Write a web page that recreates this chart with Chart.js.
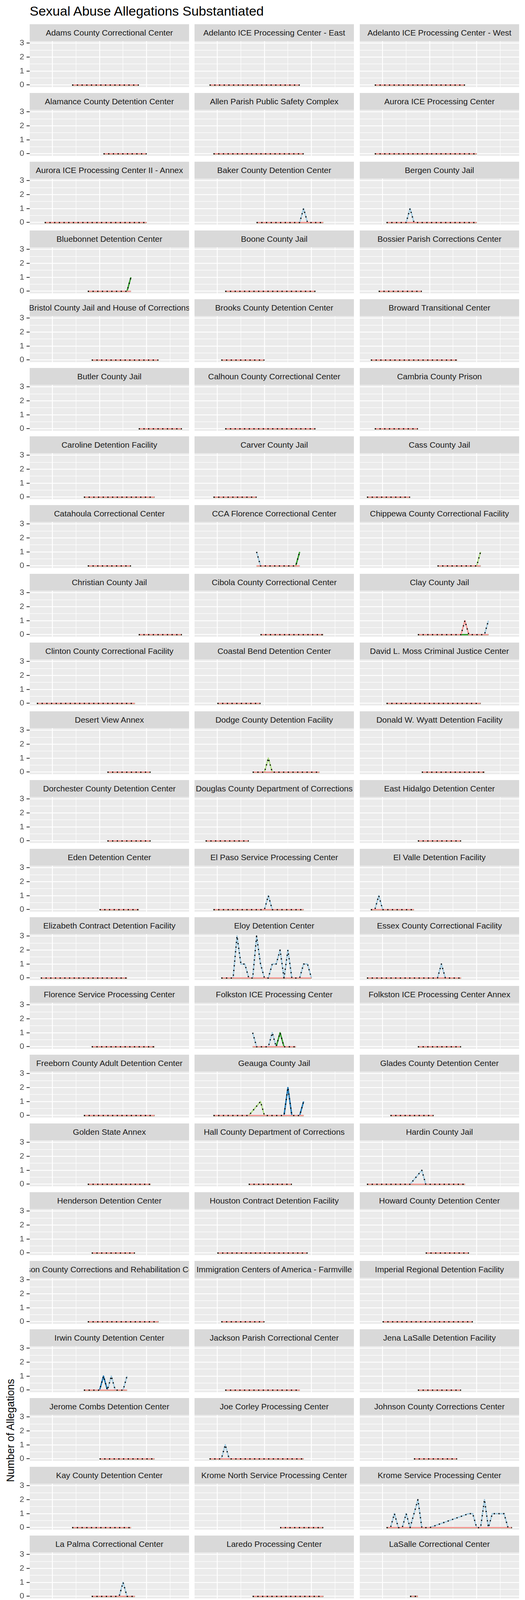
<!DOCTYPE html>
<html>
<head>
<meta charset="utf-8">
<title>Sexual Abuse Allegations Substantiated</title>
<script src="https://cdn.jsdelivr.net/npm/chart.js@4.4.0/dist/chart.umd.min.js"></script>
<style>
  body { margin: 0; background: #fff; font-family: "Liberation Sans", Arial, sans-serif; }
  #page { position: relative; width: 1344px; height: 7680px; overflow: hidden; background: #fff; }
  .strip { position: absolute; background: #d9d9d9; color: #1a1a1a; font-size: 21px; overflow: hidden;
           display: flex; align-items: center; justify-content: center; white-space: nowrap; }
  .strip span { flex-shrink: 0; }
  .panel { position: absolute; }
  #title { position: absolute; left: 76px; top: 11px; font-size: 34px; line-height: 34px; color: #000; white-space: nowrap; }
  #xTitle { position: absolute; left: 76px; width: 1253px; top: 7301px; font-size: 27px; line-height: 27px; text-align: center; color: #000; }
  #yTitle { position: absolute; left: 27px; top: 3662px; font-size: 27px; line-height: 27px; color: #000; white-space: nowrap;
            transform: translate(-50%, -50%) rotate(-90deg); }
  #legendTitle { position: absolute; left: 79px; top: 7498px; font-size: 27px; line-height: 27px; color: #000; white-space: nowrap; }
  #legendKeys { position: absolute; left: 490px; top: 7374px; width: 46px; height: 276px; background: #f2f2f2; }
  .key { position: absolute; left: 4px; width: 36px; height: 4px; }
  .keyLabel { position: absolute; left: 550px; font-size: 21px; line-height: 21px; color: #000; white-space: nowrap; }
</style>
</head>
<body>
<div id="page">
  <div id="title">Sexual Abuse Allegations Substantiated</div>
  <div id="xTitle">Date</div>
  <div id="yTitle">Number of Allegations</div>
  <div id="legendTitle">Sexual Abuse Allegation Type:</div>
  <div id="legendKeys"></div>
</div>
<script>
// months are counted from Sep 2018 (0) to Oct 2021 (37)
const yearTicks = [4, 16, 28];
const yearLabels = ['2019', '2020', '2021'];
const halfYearTicks = [10, 22, 34];
const countTicks = [0, 0.5, 1, 1.5, 2, 2.5, 3];

const seriesNames = [
  'Sexual Abuse Allegations - Detainee on Detainee',
  'Sexual Abuse Allegations - Inmate on Detainee',
  'Sexual Abuse Allegations - Detainee on Inmate',
  'Sexual Abuse Allegations - Staff/Contractor/Volunteer on Detainee',
  'Number of Sexual Abuse Allegations - Detainee on Staff/Contractor/Volunteer',
  'Total Sexual Abuse Allegations'
];
const seriesColors = ['#a6cee3', '#1f78b4', '#b2df8a', '#33a02c', '#fb9a99', '#000000'];

const facilities = [
  'Adams County Correctional Center', 'Adelanto ICE Processing Center - East', 'Adelanto ICE Processing Center - West',
  'Alamance County Detention Center', 'Allen Parish Public Safety Complex', 'Aurora ICE Processing Center',
  'Aurora ICE Processing Center II - Annex', 'Baker County Detention Center', 'Bergen County Jail',
  'Bluebonnet Detention Center', 'Boone County Jail', 'Bossier Parish Corrections Center',
  'Bristol County Jail and House of Corrections', 'Brooks County Detention Center', 'Broward Transitional Center',
  'Butler County Jail', 'Calhoun County Correctional Center', 'Cambria County Prison',
  'Caroline Detention Facility', 'Carver County Jail', 'Cass County Jail',
  'Catahoula Correctional Center', 'CCA Florence Correctional Center', 'Chippewa County Correctional Facility',
  'Christian County Jail', 'Cibola County Correctional Center', 'Clay County Jail',
  'Clinton County Correctional Facility', 'Coastal Bend Detention Center', 'David L. Moss Criminal Justice Center',
  'Desert View Annex', 'Dodge County Detention Facility', 'Donald W. Wyatt Detention Facility',
  'Dorchester County Detention Center', 'Douglas County Department of Corrections', 'East Hidalgo Detention Center',
  'Eden Detention Center', 'El Paso Service Processing Center', 'El Valle Detention Facility',
  'Elizabeth Contract Detention Facility', 'Eloy Detention Center', 'Essex County Correctional Facility',
  'Florence Service Processing Center', 'Folkston ICE Processing Center', 'Folkston ICE Processing Center Annex',
  'Freeborn County Adult Detention Center', 'Geauga County Jail', 'Glades County Detention Center',
  'Golden State Annex', 'Hall County Department of Corrections', 'Hardin County Jail',
  'Henderson Detention Center', 'Houston Contract Detention Facility', 'Howard County Detention Center',
  'Hudson County Corrections and Rehabilitation Center', 'Immigration Centers of America - Farmville', 'Imperial Regional Detention Facility',
  'Irwin County Detention Center', 'Jackson Parish Correctional Center', 'Jena LaSalle Detention Facility',
  'Jerome Combs Detention Center', 'Joe Corley Processing Center', 'Johnson County Corrections Center',
  'Kay County Detention Center', 'Krome North Service Processing Center', 'Krome Service Processing Center',
  'La Palma Correctional Center', 'Laredo Processing Center', 'LaSalle Correctional Center',
  'LaSalle County Regional Detention Center', 'LaSalle ICE Processing Center', 'Limestone County Detention Center',
  'McHenry County Adult Correctional Facility', 'Mesa Verde ICE Processing Facility', 'Monroe County Inmate Dormitory',
  'Montgomery County Jail', 'Montgomery Processing Center', 'Morgan County Adult Detention Center',
  'Morrow County Correctional Facility', 'Northern Oregon Correctional Facility', 'Northwest ICE Processing Center',
  'Nye County Detention Center', 'Okmulgee County Jail - Moore Detention Facility', 'Orange County Correctional Facility',
  'Otay Mesa Detention Center', 'Otero County Processing Center', 'Pike County Correctional Facility',
  'Pine Prairie ICE Processing Center', 'Platte County Detention Center', 'Plymouth County Correctional Facility',
  'Polk County Adult Detention Center', 'Port Isabel Service Processing Center', 'Prairieland Detention Center',
  'Pulaski County Detention Center', 'Richwood Correctional Center', 'Rio Grande Detention Center',
  'River Correctional Center', 'Robert A. Deyton Detention Facility', 'Rolling Plains Detention Center',
  'Saint Clair County Jail', 'San Luis Regional Detention Center', 'Seneca County Jail',
  'Shawnee County Department of Corrections - Adult Detention Center', 'Sherburne County Jail', 'Sheriff Al Cannon Detention Center',
  'South Louisiana ICE Processing Center', 'South Texas ICE Processing Center', 'Stewart Detention Center',
  'Strafford County Department of Corrections', 'T. Don Hutto Residential Center', 'Teller County Jail',
  'Torrance County Detention Facility', 'Val Verde Correctional Facility', 'Wakulla County Detention Facility',
  'Washoe County Detention Center', 'Webb County Detention Center', 'West Texas Detention Facility',
  'Western Tennessee Detention Facility', 'Willacy County Regional Detention Facility', 'Winn Correctional Center',
  'York County Prison', 'Yuba County Jail'
];

// first and last reported month per facility (same order as facilities)
const firstMonth = [
  9, 2, 2,   17, 3, 2,   2, 14, 5,   13, 6, 3,   14, 5, 1,
  26, 6, 2,  12, 3, 0,   13, 14, 18, 26, 15, 13, 0, 4, 5,
  18, 13, 14, 18, 1, 13, 16, 3, 1,   1, 5, 0,   14, 13, 13,
  12, 3, 6,  13, 12, 0,  14, 4, 15,  13, 5, 4,  12, 6, 13,
  16, 2, 12, 9, 20, 5,   14, 13, 11, 13, 0, 1,  13, 13, 15,
  2, 3, 14,  17, 1, 15,  14, 13, 13, 4, 4, 13,  14, 3, 15,
  4, 4, 5,   6, 7, 6,    1, 3, 13,  13, 14, 1,  0, 2, 3,
  9, 5, 12,  3, 18, 13,  13, 0, 1,  13, 5, 12,  4, 0, 8,
  1, 2
];
const lastMonth = [
  26, 25, 25, 28, 26, 28, 28, 31, 28, 24, 29, 14, 31, 16, 23,
  37, 29, 13, 30, 14, 11, 24, 25, 29, 37, 31, 31, 25, 15, 29,
  29, 30, 30, 29, 12, 24, 26, 26, 12, 23, 28, 24, 30, 24, 24,
  30, 26, 17, 29, 23, 25, 25, 27, 26, 31, 16, 27, 23, 25, 24,
  30, 26, 23, 24, 31, 37, 25, 31, 13, 24, 11, 24, 24, 24, 26,
  13, 26, 25, 28, 12, 31, 31, 24, 30, 28, 27, 30, 30, 14, 26,
  27, 27, 28, 29, 12, 29, 29, 26, 24, 24, 30, 27, 11, 27, 14,
  25, 16, 31, 26, 29, 29, 24, 11, 24, 24, 28, 23, 15, 24, 24,
  26, 26
];
// months with no report inside a facility's range
const missingMonths = {
  'Geauga County Jail': [13, 14],
  'Hardin County Jail': [12, 13],
  'Krome Service Processing Center': [17, 18, 19, 20, 21, 22, 23, 24, 25],
  'Otay Mesa Detention Center': [12]
};

// non-zero monthly counts: facility -> [month, count]
const detaineeOnDetainee = {
  'Baker County Detention Center': [[26, 1]],
  'Bergen County Jail': [[11, 1]],
  'CCA Florence Correctional Center': [[14, 1]],
  'Clay County Jail': [[31, 1]],
  'El Paso Service Processing Center': [[17, 1]],
  'El Valle Detention Facility': [[3, 1]],
  'Eloy Detention Center': [[9, 3], [10, 1], [11, 1], [14, 3], [15, 1], [18, 1], [19, 1], [20, 2], [22, 2], [26, 1], [27, 1]],
  'Essex County Correctional Facility': [[19, 1]],
  'Folkston ICE Processing Center': [[13, 1], [18, 1]],
  'Hardin County Jail': [[14, 1]],
  'Irwin County Detention Center': [[19, 1], [23, 1]],
  'Joe Corley Processing Center': [[6, 1]],
  'Krome Service Processing Center': [[7, 1], [10, 1], [12, 1], [13, 2], [26, 1], [27, 1], [30, 2], [32, 1], [33, 1], [34, 1], [35, 1]],
  'La Palma Correctional Center': [[22, 1]],
  'LaSalle ICE Processing Center': [[7, 1]],
  'Mesa Verde ICE Processing Facility': [[20, 1]],
  'Northern Oregon Correctional Facility': [[2, 1]],
  'Okmulgee County Jail - Moore Detention Facility': [[18, 1]],
  'Otay Mesa Detention Center': [[4, 2], [5, 2], [9, 3], [10, 3], [13, 3], [18, 1], [19, 1], [20, 1], [21, 1], [28, 1]],
  'Otero County Processing Center': [[9, 1], [26, 1]],
  'Stewart Detention Center': [[12, 1]],
  'Torrance County Detention Facility': [[21, 1]],
  'Webb County Detention Center': [[5, 3]],
  'York County Prison': [[4, 1], [6, 1], [7, 1], [12, 2], [13, 1], [16, 1], [21, 1], [26, 1]]
};
const inmateOnDetainee = {
  'Geauga County Jail': [[22, 2], [26, 1]],
  'Irwin County Detention Center': [[17, 1]],
  'Morgan County Adult Detention Center': [[18, 1], [19, 1]],
  'Winn Correctional Center': [[13, 1]],
  'York County Prison': [[5, 1]],
  'Yuba County Jail': [[8, 1], [18, 1]]
};
const detaineeOnInmate = {
  'Chippewa County Correctional Facility': [[29, 1]],
  'Dodge County Detention Facility': [[17, 1]],
  'Geauga County Jail': [[15, 1]]
};
const staffOnDetainee = {
  'Bluebonnet Detention Center': [[24, 1]],
  'CCA Florence Correctional Center': [[25, 1]],
  'Folkston ICE Processing Center': [[20, 1]],
  'Monroe County Inmate Dormitory': [[21, 1]],
  'Otay Mesa Detention Center': [[8, 1]],
  'Stewart Detention Center': [[20, 1]]
};
const detaineeOnStaff = {
  'Clay County Jail': [[25, 1]]
};

const seriesTables = [detaineeOnDetainee, inmateOnDetainee, detaineeOnInmate, staffOnDetainee, detaineeOnStaff];

// layout
const COL_LEFT = [76, 498, 921];
const PANEL_W = 408, STRIP_H = 43, PANEL_H = 118;
const ROW_TOP0 = 62.3, ROW_PITCH = 175.85;

Chart.defaults.font.family = '"Liberation Sans", Arial, sans-serif';
Chart.defaults.font.size = 21;

const panelBackground = {
  id: 'panelBackground',
  beforeDraw(chart) {
    const a = chart.chartArea, ctx = chart.ctx;
    ctx.save();
    ctx.fillStyle = '#ebebeb';
    ctx.fillRect(a.left, a.top, a.right - a.left, a.bottom - a.top);
    ctx.restore();
  }
};

function countAt(table, name, m) {
  const pts = table[name];
  if (!pts) return 0;
  const hit = pts.find(p => p[0] === m);
  return hit ? hit[1] : 0;
}

function buildDatasets(name, i) {
  const skip = missingMonths[name] || [];
  const months = [];
  for (let m = firstMonth[i]; m <= lastMonth[i]; m++) {
    if (!skip.includes(m)) months.push(m);
  }
  const parts = seriesTables.map(t => months.map(m => countAt(t, name, m)));
  const total = months.map((m, k) => parts.reduce((s, p) => s + p[k], 0));
  const sets = parts.map((vals, s) => ({
    label: seriesNames[s],
    data: months.map((m, k) => ({ x: m, y: vals[k] })),
    borderColor: seriesColors[s],
    borderWidth: 3.5,
    order: 5 - s
  }));
  sets.push({
    label: seriesNames[5],
    data: months.map((m, k) => ({ x: m, y: total[k] })),
    borderColor: seriesColors[5],
    borderWidth: 3,
    borderDash: [3, 9],
    order: 0
  });
  return sets;
}

const page = document.getElementById('page');

facilities.forEach((name, i) => {
  const col = i % 3, row = Math.floor(i / 3);
  const top = Math.round(ROW_TOP0 + row * ROW_PITCH);
  const isLeft = col === 0;
  const isBottom = i + 3 >= facilities.length;

  const strip = document.createElement('div');
  strip.className = 'strip';
  strip.style.left = COL_LEFT[col] + 'px';
  strip.style.top = top + 'px';
  strip.style.width = PANEL_W + 'px';
  strip.style.height = STRIP_H + 'px';
  const span = document.createElement('span');
  span.textContent = name;
  strip.appendChild(span);
  page.appendChild(strip);

  const yAxisW = isLeft ? 76 : 0;
  const xAxisH = isBottom ? 44 : 0;
  const padT = 12, padB = isBottom ? 0 : 12;
  const canvas = document.createElement('canvas');
  canvas.className = 'panel';
  canvas.width = PANEL_W + yAxisW;
  canvas.height = padT + PANEL_H + xAxisH + padB;
  canvas.style.left = (COL_LEFT[col] - yAxisW) + 'px';
  canvas.style.top = (top + STRIP_H - padT) + 'px';
  page.appendChild(canvas);

  new Chart(canvas, {
    type: 'line',
    data: { datasets: buildDatasets(name, i) },
    options: {
      responsive: false,
      animation: false,
      events: [],
      layout: { padding: { top: padT, bottom: padB, left: 0, right: 0 } },
      elements: {
        point: { radius: 0 },
        line: { tension: 0, borderJoinStyle: 'round', borderCapStyle: 'butt', fill: false }
      },
      plugins: { legend: { display: false }, tooltip: { enabled: false } },
      scales: {
        x: {
          type: 'linear',
          min: -1.85,
          max: 38.85,
          afterBuildTicks: s => { s.ticks = yearTicks.concat(halfYearTicks).map(v => ({ value: v })); },
          afterFit: s => { s.height = xAxisH; s.paddingLeft = 0; s.paddingRight = 0; },
          border: { display: false },
          grid: {
            color: '#ffffff',
            lineWidth: c => yearTicks.includes(c.tick.value) ? 2.3 : 1.2,
            drawTicks: isBottom,
            tickLength: 7,
            tickWidth: 2,
            tickColor: c => yearTicks.includes(c.tick.value) ? '#333333' : 'rgba(0,0,0,0)'
          },
          ticks: {
            display: isBottom,
            autoSkip: false,
            maxRotation: 0,
            padding: 4,
            color: '#4d4d4d',
            callback: v => { const k = yearTicks.indexOf(v); return k >= 0 ? yearLabels[k] : ''; }
          }
        },
        y: {
          min: -0.15,
          max: 3.15,
          afterBuildTicks: s => { s.ticks = countTicks.map(v => ({ value: v })); },
          afterFit: s => { s.width = yAxisW; s.paddingTop = 0; s.paddingBottom = 0; },
          border: { display: false },
          grid: {
            color: '#ffffff',
            lineWidth: c => Number.isInteger(c.tick.value) ? 2.3 : 1.2,
            drawTicks: isLeft,
            tickLength: 8,
            tickWidth: 2,
            tickColor: c => Number.isInteger(c.tick.value) ? '#333333' : 'rgba(0,0,0,0)'
          },
          ticks: {
            display: isLeft,
            autoSkip: false,
            padding: 6,
            color: '#4d4d4d',
            callback: v => Number.isInteger(v) ? String(v) : ''
          }
        }
      }
    },
    plugins: [panelBackground]
  });
});

// legend
const keyBox = document.getElementById('legendKeys');
seriesNames.forEach((label, s) => {
  const cy = 23 + s * 46;
  const key = document.createElement('div');
  key.className = 'key';
  key.style.top = (cy - 2) + 'px';
  if (s === 5) {
    key.style.height = '3px';
    key.style.top = (cy - 1.5) + 'px';
    key.style.background = 'repeating-linear-gradient(to right, #000 0 3px, transparent 3px 12px)';
  } else {
    key.style.background = seriesColors[s];
  }
  keyBox.appendChild(key);
  const text = document.createElement('div');
  text.className = 'keyLabel';
  text.style.top = (7374 + cy - 11) + 'px';
  text.textContent = label;
  page.appendChild(text);
});
</script>
</body>
</html>
